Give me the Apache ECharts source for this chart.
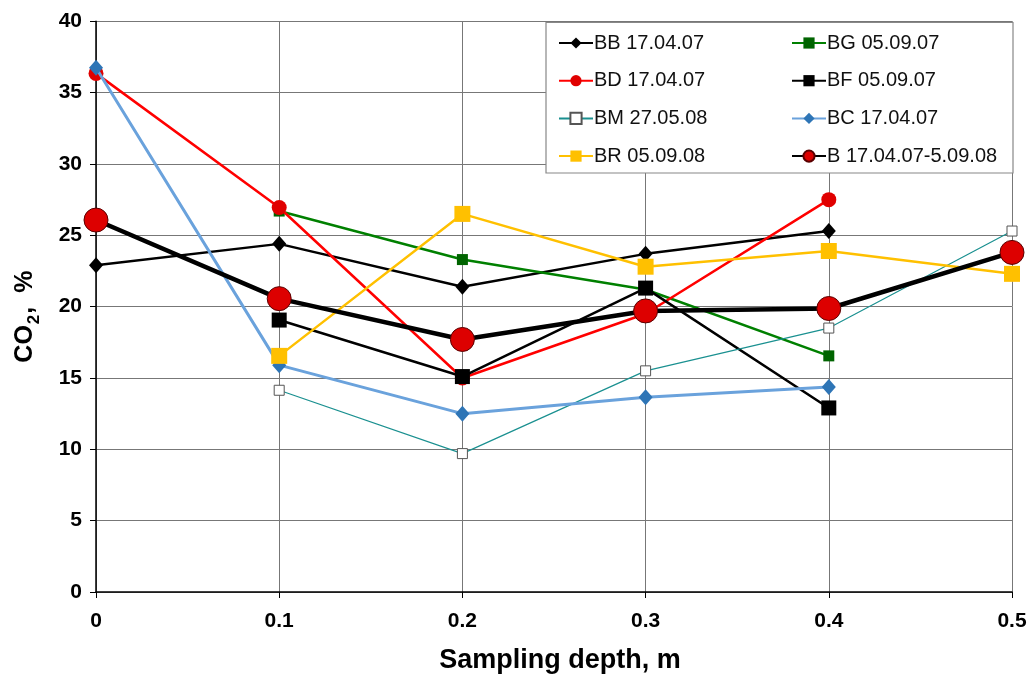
<!DOCTYPE html>
<html><head><meta charset="utf-8">
<script src="https://cdn.jsdelivr.net/npm/echarts@6/dist/echarts.min.js"></script>
<style>html,body{margin:0;padding:0;background:#fff;overflow:hidden}#c{width:1031px;height:679px}</style>
</head><body><div id="c"></div>
<script>
var depths = [0, 0.1, 0.2, 0.3, 0.4, 0.5];
var xTicks = ['0', '0.1', '0.2', '0.3', '0.4', '0.5'];
var BB = [22.9, 24.4, 21.4, 23.7, 25.3, null];
var BG = [null, 26.7, 23.3, 21.2, 16.55, null];
var BD = [36.35, 26.95, 15.0, 19.5, 27.5, null];
var BF = [null, 19.06, 15.1, 21.3, 12.9, null];
var BM = [null, 14.14, 9.7, 15.5, 18.5, 25.3];
var BC = [36.75, 15.9, 12.5, 13.65, 14.37, null];
var BR = [null, 16.55, 26.5, 22.8, 23.9, 22.3];
var B  = [26.07, 20.56, 17.7, 19.7, 19.87, 23.8];
var names = ['BB 17.04.07','BG 05.09.07','BD 17.04.07','BF 05.09.07','BM 27.05.08','BC 17.04.07','BR 05.09.08','B 17.04.07-5.09.08'];

function pairs(arr){ return depths.map(function(d,i){ return [d, arr[i]]; }); }

var FONT = '"Liberation Sans",Arial,sans-serif';

function mk(name, data, o){
  return {
    name: name, type: 'line', data: pairs(data), connectNulls: false,
    symbol: o.symbol, symbolSize: o.size,
    lineStyle: {color: o.line, width: o.width},
    itemStyle: {color: o.fill, borderColor: o.border || o.fill, borderWidth: o.bw || 0},
    z: o.z, animation: false
  };
}

var series = [
  mk(names[0], BB, {symbol:'diamond', size:[14,16], line:'#000', width:2.5, fill:'#000', z:2}),
  mk(names[1], BG, {symbol:'rect', size:11, line:'#008000', width:2.5, fill:'#006400', z:3}),
  mk(names[2], BD, {symbol:'circle', size:15, line:'#ff0000', width:2.5, fill:'#e00000', z:4}),
  mk(names[3], BF, {symbol:'rect', size:15, line:'#000', width:2.5, fill:'#000', z:5}),
  mk(names[4], BM, {symbol:'rect', size:10, line:'#1a9090', width:1.2, fill:'#fff', border:'#555', bw:1, z:6}),
  mk(names[5], BC, {symbol:'diamond', size:[14,16], line:'#6aa2dc', width:3, fill:'#2e75b6', z:7}),
  mk(names[6], BR, {symbol:'rect', size:16, line:'#ffc000', width:2.5, fill:'#ffc000', z:8}),
  mk(names[7], B,  {symbol:'circle', size:24, line:'#000', width:4.5, fill:'#dd0000', border:'#5a0000', bw:1, z:9})
];

var legendCommon = {
  orient: 'vertical', itemWidth: 34, itemHeight: 14, itemGap: 17.7,
  textStyle: {fontFamily: FONT, fontSize: 20, color: '#111', lineHeight: 20, padding:[0,0,0,-4]},
  selectedMode: false, z: 10
};

var option = {
  backgroundColor: '#fff',
  animation: false,
  grid: {left: 96, top: 21.3, width: 916, height: 576, containLabel: false},
  xAxis: {
    type: 'value', min: 0, max: 0.5, interval: 0.1,
    axisLine: {show: true, onZero: false, lineStyle: {color: '#000', width: 1.5}},
    axisTick: {show: true, length: 6, lineStyle: {color: '#000'}},
    splitLine: {show: true, lineStyle: {color: '#777', width: 1}},
    axisLabel: {fontFamily: FONT, fontWeight: 'bold', fontSize: 21, color: '#000', margin: 19,
      formatter: function(v){ var i = Math.round(v*10); return xTicks[i]; }},
    name: 'Sampling depth, m', nameLocation: 'middle', nameGap: 55,
    nameTextStyle: {fontFamily: FONT, fontWeight: 'bold', fontSize: 27, color: '#000', padding:[0,0,0,12]}
  },
  yAxis: {
    type: 'value', min: 0, max: 40, interval: 5,
    axisLine: {show: true, lineStyle: {color: '#000', width: 1.5}},
    axisTick: {show: true, length: 6, lineStyle: {color: '#000'}},
    splitLine: {show: true, lineStyle: {color: '#777', width: 1}},
    axisLabel: {fontFamily: FONT, fontWeight: 'bold', fontSize: 21, color: '#000', margin: 14},
    name: '{a|CO}{b|2}{a|,  %}', nameLocation: 'middle', nameGap: 58,
    nameTextStyle: {
      padding: [0, 20, 0, 0],
      rich: {
        a: {fontFamily: FONT, fontWeight: 'bold', fontSize: 25, color: '#000', lineHeight: 28, verticalAlign: 'bottom'},
        b: {fontFamily: FONT, fontWeight: 'bold', fontSize: 17, color: '#000', lineHeight: 20, verticalAlign: 'bottom', padding: [0,1,-5,1]}
      }
    }
  },
  graphic: [{
    type: 'rect', z: 9, shape: {x: 546, y: 22.5, width: 467, height: 150.5},
    style: {fill: '#fff', stroke: '#888', lineWidth: 1.2}
  }],
  legend: [
    Object.assign({}, legendCommon, {left: 553, top: 28, data: [names[0], names[2], names[4], names[6]]}),
    Object.assign({}, legendCommon, {left: 786, top: 28, data: [names[1], names[3], names[5], names[7]]})
  ],
  series: series
};

var chart = echarts.init(document.getElementById('c'), null, {renderer: 'canvas', width: 1031, height: 679});
chart.setOption(option);
</script></body></html>
